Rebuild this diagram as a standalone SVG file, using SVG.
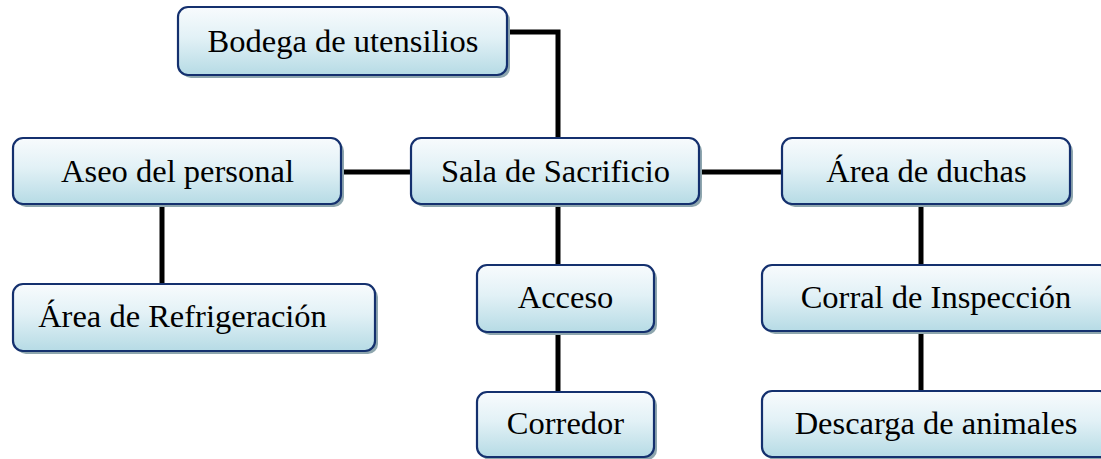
<svg xmlns="http://www.w3.org/2000/svg" width="1101" height="459" viewBox="0 0 1101 459">
<style>
.box{fill:url(#g);stroke:#14306e;stroke-width:2.2}
.sh{fill:#8ea6ae}
.t{font-family:"Liberation Serif","Times New Roman",serif;font-size:32.5px;fill:#000;text-anchor:middle}
.c{fill:none;stroke:#000;stroke-width:5}
</style>
<defs>
<linearGradient id="g" x1="0" y1="0" x2="0" y2="1">
<stop offset="0" stop-color="#f8fbfd"/>
<stop offset="0.45" stop-color="#e2f1f6"/>
<stop offset="1" stop-color="#b6dbe5"/>
</linearGradient>
</defs>
<rect width="1101" height="459" fill="#fff"/>
<g id="connectors">
<polyline class="c" points="507,32 558,32 558,140"/>
<line class="c" x1="341" y1="172" x2="412" y2="172"/>
<line class="c" x1="699" y1="172" x2="782" y2="172"/>
<line class="c" x1="162" y1="204" x2="162" y2="285"/>
<line class="c" x1="558" y1="204" x2="558" y2="266"/>
<line class="c" x1="558" y1="332" x2="558" y2="393"/>
<line class="c" x1="921" y1="204" x2="921" y2="266"/>
<line class="c" x1="921" y1="331" x2="921" y2="392"/>
</g>
<g id="bodega">
<rect class="sh" x="181" y="10" width="329" height="68" rx="10"/>
<rect class="box" x="178" y="7" width="329" height="68" rx="10"/>
<text class="t" x="343" y="52">Bodega de utensilios</text>
</g>
<g id="aseo">
<rect class="sh" x="16" y="141" width="328" height="66" rx="10"/>
<rect class="box" x="13" y="138" width="328" height="66" rx="10"/>
<text class="t" x="177.5" y="182">Aseo del personal</text>
</g>
<g id="sala">
<rect class="sh" x="414" y="141" width="288" height="66" rx="10"/>
<rect class="box" x="411" y="138" width="288" height="66" rx="10"/>
<text class="t" x="555.5" y="182">Sala de Sacrificio</text>
</g>
<g id="duchas">
<rect class="sh" x="785" y="141" width="288" height="66" rx="10"/>
<rect class="box" x="782" y="138" width="288" height="66" rx="10"/>
<text class="t" x="926.5" y="182">Área de duchas</text>
</g>
<g id="refrigeracion">
<rect class="sh" x="16" y="287" width="362" height="67" rx="10"/>
<rect class="box" x="13" y="284" width="362" height="67" rx="10"/>
<text class="t" x="182.5" y="327">Área de Refrigeración</text>
</g>
<g id="acceso">
<rect class="sh" x="480" y="268" width="177" height="67" rx="10"/>
<rect class="box" x="477" y="265" width="177" height="67" rx="10"/>
<text class="t" x="565.5" y="308">Acceso</text>
</g>
<g id="corredor">
<rect class="sh" x="480" y="395" width="177" height="65" rx="10"/>
<rect class="box" x="477" y="392" width="177" height="65" rx="10"/>
<text class="t" x="565.5" y="434">Corredor</text>
</g>
<g id="corral">
<rect class="sh" x="765" y="268" width="348" height="66" rx="10"/>
<rect class="box" x="762" y="265" width="348" height="66" rx="10"/>
<text class="t" x="936" y="308">Corral de Inspección</text>
</g>
<g id="descarga">
<rect class="sh" x="765" y="394" width="348" height="66" rx="10"/>
<rect class="box" x="762" y="391" width="348" height="66" rx="10"/>
<text class="t" x="936" y="434">Descarga de animales</text>
</g>
</svg>
